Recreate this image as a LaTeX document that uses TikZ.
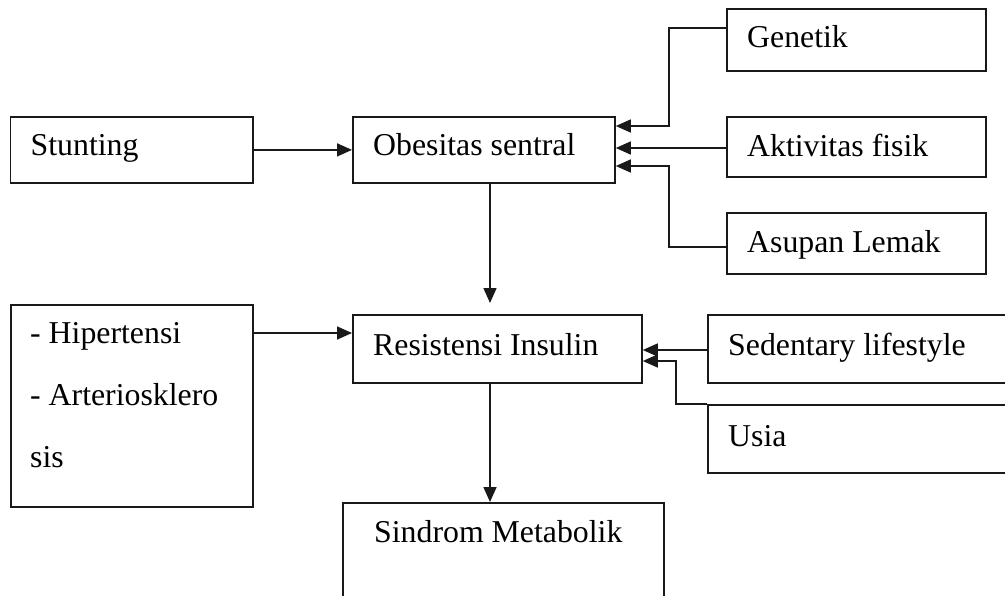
\documentclass[tikz,border=0pt]{standalone}
\usepackage{fontspec}
\setmainfont{Liberation Serif}
\usetikzlibrary{arrows.meta,calc}
\begin{document}
\begin{tikzpicture}[x=1pt,y=-1pt,
  box/.style={draw=black!90, line width=1.8pt, inner sep=0pt, anchor=north west},
  lbl/.style={anchor=base west, inner sep=0pt, font=\fontsize{31.8}{37}\selectfont},
  arr/.style={draw=black!90, line width=1.6pt, -{Triangle[length=15pt,width=13pt]}}]
\useasboundingbox (0,0) rectangle (1005,595);
\clip (0,0) rectangle (1005,595);
% boxes
\node[box, minimum width=242.5pt, minimum height=66pt] (st) at (9.5,116) {};
\node[box, minimum width=262pt, minimum height=66pt] (ob) at (352,116) {};
\node[box, minimum width=259pt, minimum height=62pt] (ge) at (726,8) {};
\node[box, minimum width=259pt, minimum height=60pt] (ak) at (726,116) {};
\node[box, minimum width=259pt, minimum height=61pt] (as) at (726,212) {};
\node[box, minimum width=242pt, minimum height=202pt] (hi) at (10,304) {};
\node[box, minimum width=289pt, minimum height=68pt] (ri) at (352,314) {};
\node[box, minimum width=320pt, minimum height=68pt] (se) at (707,314) {};
\node[box, minimum width=320pt, minimum height=68pt] (us) at (707,404) {};
\node[box, minimum width=321pt, minimum height=140pt] (sm) at (342,502) {};
% texts
\node[lbl] (tst) at ($(st.north west)+(21,39)$) {Stunting};
\node[lbl] (tob) at ($(ob.north west)+(21,39)$) {Obesitas sentral};
\node[lbl] (tge) at ($(ge.north west)+(21,39)$) {Genetik};
\node[lbl] (tak) at ($(ak.north west)+(21,40)$) {Aktivitas fisik};
\node[lbl] (tas) at ($(as.north west)+(21,40)$) {Asupan Lemak};
\node[lbl] (thi1) at ($(hi.north west)+(20,39)$) {- Hipertensi};
\node[lbl] (thi2) at ($(hi.north west)+(20,101)$) {- Arteriosklero};
\node[lbl] (thi3) at ($(hi.north west)+(20,163)$) {sis};
\node[lbl] (tri) at ($(ri.north west)+(21,41)$) {Resistensi Insulin};
\node[lbl] (tse) at ($(se.north west)+(21,41)$) {Sedentary lifestyle};
\node[lbl] (tus) at ($(us.north west)+(21,42)$) {Usia};
\node[lbl] (tsm) at ($(sm.north west)+(32,40)$) {Sindrom Metabolik};
% connectors
\draw[arr] (st.east) -- (st.east -| ob.west);
\draw[arr] ($(ob.south west)+(138,0)$) -- ($(ri.north west)+(138,-11)$);
\draw[arr] ($(ri.south west)+(138,0)$) -- ($(sm.north west)+(148,0)$);
\draw[arr] ($(hi.north east)+(0,29)$) -- ($(ri.north west)+(0,19)$);
\draw[arr] ($(ge.north west)+(0,20)$) -- ++(-57,0) |- ($(ob.north east)+(0,10)$);
\draw[arr] ($(ak.north west)+(0,32)$) -- ($(ob.north east)+(0,32)$);
\draw[arr] ($(as.north west)+(0,35)$) -- ++(-57,0) |- ($(ob.north east)+(0,50)$);
\draw[arr] ($(se.north west)+(0,36)$) -- ($(ri.north east)+(0,36)$);
\draw[arr] (us.north west) -- ++(-31,0) |- ($(ri.north east)+(0,47)$);
\end{tikzpicture}
\end{document}
